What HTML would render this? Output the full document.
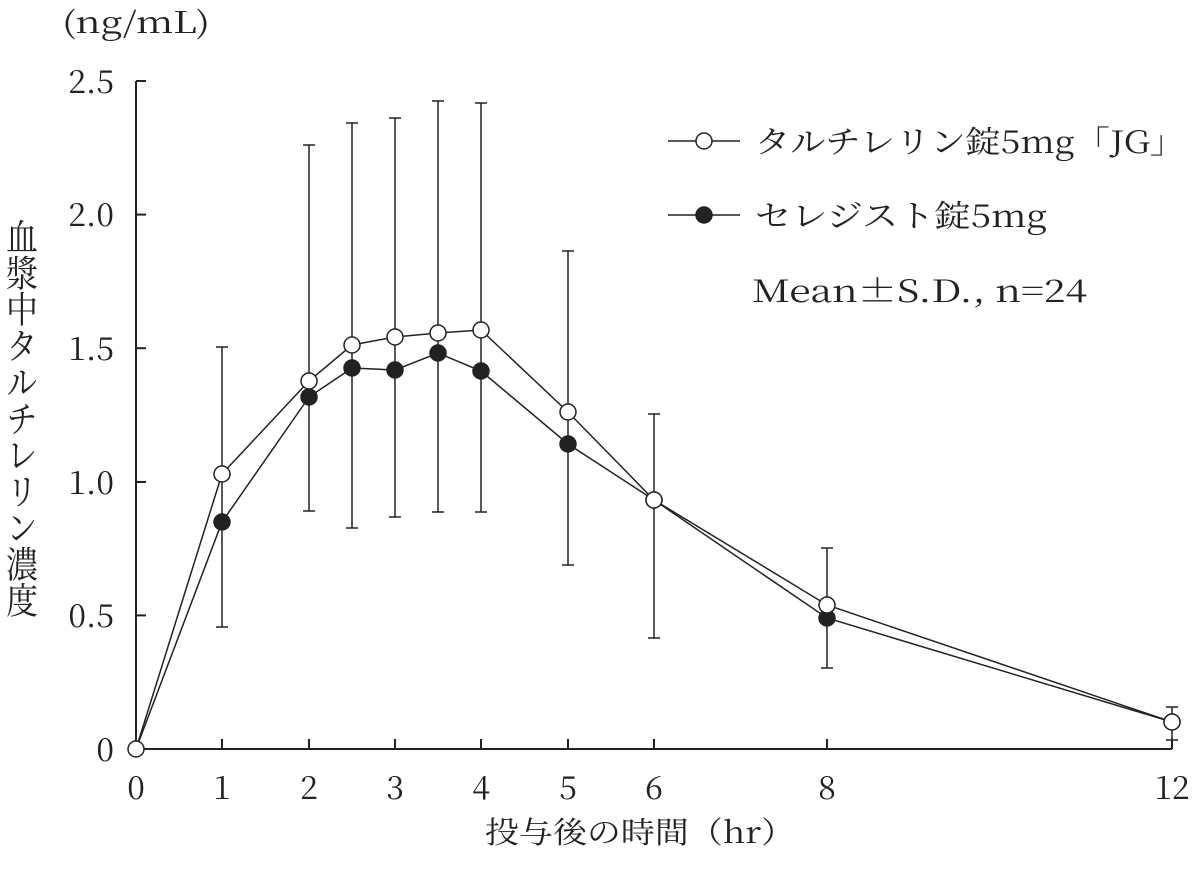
<!DOCTYPE html>
<html><head><meta charset="utf-8"><style>
html,body{margin:0;padding:0;background:#fff;}
svg text{font-family:"Noto Serif CJK JP","Noto Serif CJK SC","Liberation Serif",serif;fill:#222;}
</style></head><body>
<svg width="1197" height="878" viewBox="0 0 1197 878" xmlns="http://www.w3.org/2000/svg">
<g stroke="#222" stroke-width="2" fill="none">
<line x1="136" y1="81" x2="136" y2="749"/>
<line x1="136" y1="749" x2="1172" y2="749"/>
<line x1="136" y1="81" x2="146" y2="81"/>
<line x1="136" y1="214.6" x2="146" y2="214.6"/>
<line x1="136" y1="348.2" x2="146" y2="348.2"/>
<line x1="136" y1="482" x2="146" y2="482"/>
<line x1="136" y1="615.4" x2="146" y2="615.4"/>
<line x1="222" y1="749" x2="222" y2="739"/>
<line x1="309" y1="749" x2="309" y2="739"/>
<line x1="395" y1="749" x2="395" y2="739"/>
<line x1="481" y1="749" x2="481" y2="739"/>
<line x1="568" y1="749" x2="568" y2="739"/>
<line x1="654" y1="749" x2="654" y2="739"/>
<line x1="827" y1="749" x2="827" y2="739"/>
<line x1="1172" y1="749" x2="1172" y2="739"/>
</g>
<g stroke="#222" stroke-width="1.5" fill="none">
<path d="M222 347V627M216 347H228M216 627H228"/>
<path d="M309 145V511M303 145H315M303 511H315"/>
<path d="M352 123V528M346 123H358M346 528H358"/>
<path d="M395 118V517M389 118H401M389 517H401"/>
<path d="M438 101V512M432 101H444M432 512H444"/>
<path d="M481 103V512M475 103H487M475 512H487"/>
<path d="M568 251V565M562 251H574M562 565H574"/>
<path d="M654 414V638M648 414H660M648 638H660"/>
<path d="M827 548V668M821 548H833M821 668H833"/>
<path d="M1172 707V740M1166 707H1178M1166 740H1178"/>
<polyline points="136,749 222,474 309,381 352,345 395,337 438,333 481,330 568,412 654,500 827,605 1172,722"/>
<polyline points="136,749 222,522 309,397 352,368 395,370 438,353 481,371 568,444 654,500 827,618 1172,722"/>
<line x1="668" y1="141" x2="740" y2="141"/>
<line x1="668" y1="215" x2="740" y2="215"/>
</g>
<g fill="#222" stroke="#222" stroke-width="1.5">
<circle cx="222" cy="522" r="8"/><circle cx="309" cy="397" r="8"/><circle cx="352" cy="368" r="8"/><circle cx="395" cy="370" r="8"/><circle cx="438" cy="353" r="8"/><circle cx="481" cy="371" r="8"/><circle cx="568" cy="444" r="8"/><circle cx="654" cy="500" r="8"/><circle cx="827" cy="618" r="8"/><circle cx="1172" cy="722" r="8"/>
<circle cx="704" cy="215" r="8"/>
</g>
<g fill="#fff" stroke="#222" stroke-width="1.5">
<circle cx="136" cy="749" r="8"/><circle cx="222" cy="474" r="8"/><circle cx="309" cy="381" r="8"/><circle cx="352" cy="345" r="8"/><circle cx="395" cy="337" r="8"/><circle cx="438" cy="333" r="8"/><circle cx="481" cy="330" r="8"/><circle cx="568" cy="412" r="8"/><circle cx="654" cy="500" r="8"/><circle cx="827" cy="605" r="8"/><circle cx="1172" cy="722" r="8"/>
<circle cx="704" cy="141" r="8"/>
</g>
<g font-size="32" text-anchor="end">
<text x="114" y="93">2.5</text>
<text x="114" y="226">2.0</text>
<text x="114" y="360">1.5</text>
<text x="114" y="494">1.0</text>
<text x="114" y="627">0.5</text>
<text x="114" y="761">0</text>
</g>
<g font-size="32" text-anchor="middle">
<text x="136" y="799">0</text><text x="222" y="799">1</text><text x="309" y="799">2</text><text x="395" y="799">3</text><text x="481" y="799">4</text><text x="568" y="799">5</text><text x="654" y="799">6</text><text x="827" y="799">8</text><text x="1172" y="799">12</text>
</g>
<text x="485" y="843" font-size="30" textLength="310" lengthAdjust="spacingAndGlyphs">投与後の時間（hr）</text>
<text x="62" y="33" font-size="30" textLength="148" lengthAdjust="spacingAndGlyphs">(ng/mL)</text>
<text x="755" y="153" font-size="31" textLength="430" lengthAdjust="spacingAndGlyphs">タルチレリン錠5mg「JG」</text>
<text x="755" y="227" font-size="31" textLength="292" lengthAdjust="spacingAndGlyphs">セレジスト錠5mg</text>
<text x="752" y="302" font-size="31" textLength="335" lengthAdjust="spacingAndGlyphs">Mean±S.D., n=24</text>
<text x="22" y="218" font-size="32" style="writing-mode:vertical-rl" textLength="400" lengthAdjust="spacingAndGlyphs">血漿中タルチレリン濃度</text>
</svg>
</body></html>
